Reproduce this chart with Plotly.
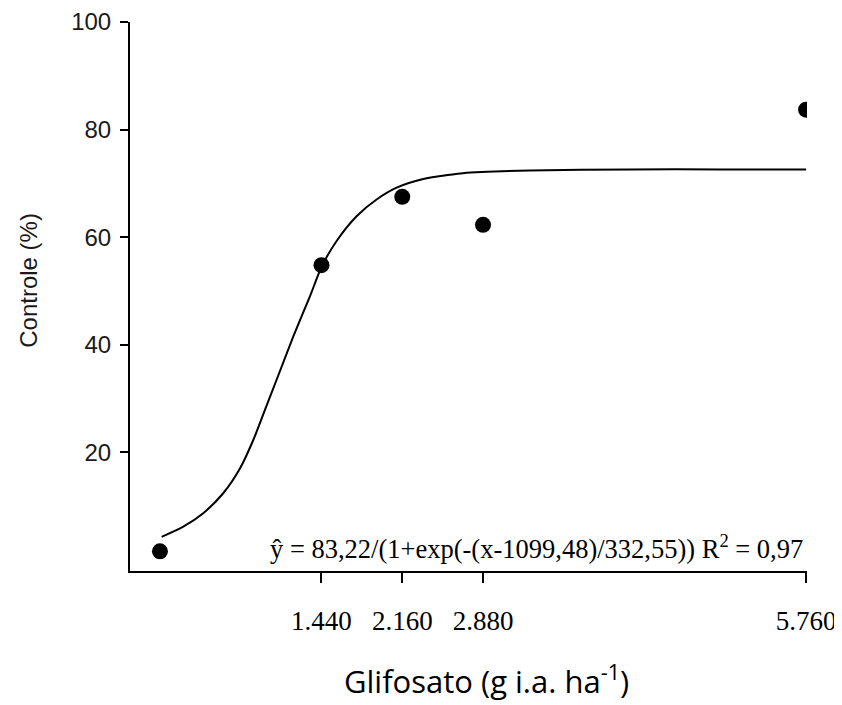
import plotly.graph_objects as go

# Observed data
dose = [0, 1440, 2160, 2880, 5760]
controle = [1.6, 54.8, 67.5, 62.3, 83.7]

# Fitted curve
curve_x = [15, 208, 386, 564, 713, 832, 936, 1040, 1188, 1337, 1441, 1575, 1753, 1931,
           2110, 2347, 2585, 2700, 3298, 4200, 5000, 5760]
curve_y = [4.3, 6.2, 8.7, 12.4, 17.0, 22.3, 27.9, 33.5, 41.5, 49.0, 54.5, 59.3, 63.9, 67.0,
           69.2, 70.8, 71.6, 71.9, 72.4, 72.6, 72.6, 72.6]

x_tickvals = [1440, 2160, 2880, 5760]
x_ticktext = ["1.440", "2.160", "2.880", "5.760"]
y_tickvals = [20, 40, 60, 80, 100]

equation = "ŷ = 83,22/(1+exp(-(x-1099,48)/332,55)) R<sup>2</sup> = 0,97"
x_title = "Glifosato (g i.a. ha<sup>-1</sup>)"
y_title = "Controle (%)"

fig = go.Figure()
fig.add_trace(go.Scatter(x=curve_x, y=curve_y, mode="lines",
                         line=dict(color="black", width=2, shape="spline", smoothing=0.7),
                         showlegend=False, hoverinfo="skip"))
fig.add_trace(go.Scatter(x=dose, y=controle, mode="markers",
                         marker=dict(color="black", size=16),
                         showlegend=False))

fig.add_annotation(x=5752, y=2.4, xref="x", yref="y", text=equation, showarrow=False,
                   xanchor="right", yanchor="middle",
                   font=dict(family="Liberation Serif", size=26.5, color="black"))

# axis titles placed as in the reference
fig.add_annotation(x=0.527, y=-0.197, xref="paper", yref="paper", text=x_title,
                   showarrow=False, xanchor="center", yanchor="middle",
                   font=dict(family="Open Sans", size=31, color="black"))
fig.add_annotation(x=-0.151, y=0.53, xref="paper", yref="paper", text=y_title,
                   showarrow=False, xanchor="center", yanchor="middle", textangle=-90,
                   font=dict(family="Liberation Sans", size=24, color="#1a1a1a"))

fig.update_layout(
    width=842, height=705,
    margin=dict(l=122, r=43, t=14, b=142),
    plot_bgcolor="white", paper_bgcolor="white",
    xaxis=dict(range=[-267, 5768], tickvals=x_tickvals, ticktext=x_ticktext,
               showline=True, linecolor="black", linewidth=2, mirror=False,
               ticks="outside", ticklen=10, tickwidth=2, tickcolor="black",
               showgrid=False, zeroline=False, ticklabelstandoff=15, automargin=False,
               tickfont=dict(family="Liberation Serif", size=27, color="black")),
    yaxis=dict(range=[-2.05, 100], tickvals=y_tickvals,
               showline=True, linecolor="black", linewidth=2,
               ticks="outside", ticklen=8, tickwidth=2, tickcolor="black",
               showgrid=False, zeroline=False, ticklabelstandoff=4, automargin=False,
               tickfont=dict(family="Liberation Sans", size=24, color="#1a1a1a")),
)

fig.write_html("out.html")
